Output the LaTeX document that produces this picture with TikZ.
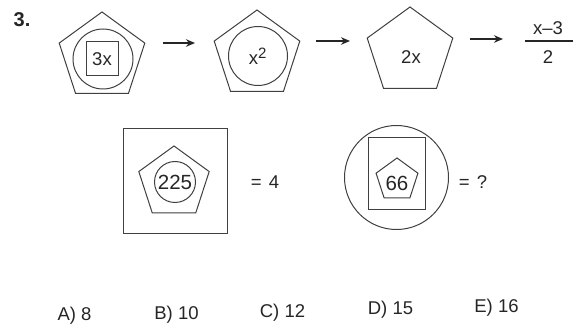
\documentclass[tikz,border=0pt]{standalone}
\usepackage{fontspec}
\setmainfont{Liberation Sans}
\usetikzlibrary{shapes.geometric,arrows.meta}
\begin{document}
\begin{tikzpicture}[x=1pt,y=-1pt,
  ln/.style={draw=black!75,line width=1pt},
  pent/.style={ln,regular polygon,regular polygon sides=5,inner sep=0pt,minimum size=#1},
  circ/.style={ln,circle,inner sep=0pt,minimum size=#1},
  txt/.style={font=\fontsize{18.5}{20}\selectfont,text=black!85,inner sep=0pt},
  bigtxt/.style={font=\fontsize{20.5}{22}\selectfont,text=black!85,inner sep=0pt},
  arr/.style={draw=black!85,line width=1.2pt,-{Stealth[length=9pt,width=7.5pt]}}]
\useasboundingbox (0,0) rectangle (579,331);
\fill[white] (0,0) rectangle (579,331);

\node[font=\bfseries\fontsize{20}{22}\selectfont,text=black!85,inner sep=0pt] (num) at (22,20) {3.};

% first figure
\node[pent=90pt] (p1) at (102,57) {};
\node[circ=60pt] (c1) at (103,59) {};
\node[ln,rectangle,minimum width=32pt,minimum height=34pt,txt] (s1) at (102,59) {3x};

% second figure
\node[pent=90pt] (p2) at (257,55) {};
\node[circ=59pt,txt] (c2) at (258,56) {x\textsuperscript{\fontsize{15}{16}\selectfont 2}};

% third figure
\node[pent=90pt] (p3) at (410,52) {};
\node[txt] (t3) at (411,57) {2x};

% fraction
\node[txt] (fnum) at (548,28) {x–3};
\coordinate (fl) at (525,41);
\coordinate (fr) at (573,41);
\draw[draw=black!85,line width=1.1pt] (fl) -- (fr);
\node[txt] (fden) at (548,57) {2};

% arrows
\coordinate (a1s) at (163,43); \coordinate (a1e) at (195,43);
\coordinate (a2s) at (316,41); \coordinate (a2e) at (350,41);
\coordinate (a3s) at (470,39); \coordinate (a3e) at (503,39);
\draw[arr] (a1s) -- (a1e);
\draw[arr] (a2s) -- (a2e);
\draw[arr] (a3s) -- (a3e);

% example
\node[ln,rectangle,minimum width=104pt,minimum height=105pt] (sq) at (175,181.5) {};
\node[pent=74pt] (p4) at (174,183) {};
\node[circ=41pt,bigtxt] (c4) at (175,182) {225};
\node[txt] (eq1) at (265,182) {=\hspace{7pt}4};

% question
\node[circ=104pt] (c5) at (396.5,177.5) {};
\node[ln,rectangle,minimum width=57pt,minimum height=72pt] (r5) at (396.5,174) {};
\node[pent=44pt] (p5) at (397,180) {};
\node[bigtxt] (t5) at (397,183) {66};
\node[txt] (eq2) at (473,182) {=\hspace{7pt}?};

% answers
\node[txt] (ansA) at (74.5,316) {A) 8};
\node[txt] (ansB) at (176.5,315) {B) 10};
\node[txt] (ansC) at (282.5,313) {C) 12};
\node[txt] (ansD) at (390.5,310) {D) 15};
\node[txt] (ansE) at (496.5,308) {E) 16};
\end{tikzpicture}
\end{document}
